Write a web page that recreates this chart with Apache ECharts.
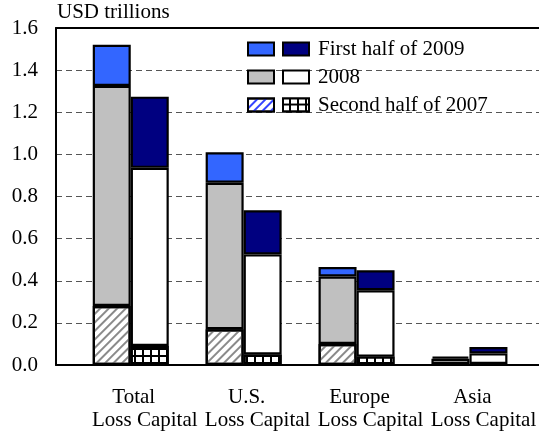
<!DOCTYPE html>
<html><head><meta charset="utf-8">
<script src="https://cdn.jsdelivr.net/npm/echarts@6/dist/echarts.min.js"></script>
<style>html,body{margin:0;padding:0;background:#fff}#c{width:539px;height:438px}</style>
</head><body><div id="c"></div>
<script>
const categories = ['Total', 'U.S.', 'Europe', 'Asia'];
const subLabel = 'Loss Capital';
const periodNames = ['First half of 2009', '2008', 'Second half of 2007'];
const yTicks = [0.0, 0.2, 0.4, 0.6, 0.8, 1.0, 1.2, 1.4, 1.6];
// Losses
const loss2007H2 = [0.28, 0.17, 0.10, 0.005];
const loss2008   = [1.045, 0.695, 0.32, 0.025];
const loss2009H1 = [0.195, 0.145, 0.045, 0.01];
// Capital raised
const cap2007H2 = [0.09, 0.05, 0.04, 0.005];
const cap2008   = [0.846, 0.475, 0.315, 0.05];
const cap2009H1 = [0.338, 0.21, 0.095, 0.03];

const FONT = '"Liberation Serif", "DejaVu Serif", serif';
const hatch = (c) => ({symbol:'rect', symbolSize:1, color:c, dashArrayX:[1,0], dashArrayY:[1.2,3.2], rotation:-Math.PI/4});
const gridDecal = {symbol:'rect', symbolSize:1, color:'#fff', backgroundColor:'#000', dashArrayX:[5.5,1.6], dashArrayY:[4.4,1.6]};
const border = {borderColor:'#000', borderWidth:2.2};

function bar(name, stack, data, color, decal){
  const s = {name, type:'bar', stack, data, xAxisIndex:1, yAxisIndex:1, barWidth:38, barGap:'0%',
    itemStyle:Object.assign({color}, border), emphasis:{disabled:true}, animation:false};
  if (decal) s.itemStyle.decal = decal;
  return s;
}
const lossNames = periodNames.map(p => 'Loss: ' + p);
const capNames = periodNames.map(p => 'Capital: ' + p);

const chart = echarts.init(document.getElementById('c'), null, {renderer:'canvas'});
chart.setOption({
  animation:false,
  backgroundColor:'#fff',
  textStyle:{fontFamily:FONT, color:'#000'},
  title:{text:'USD trillions', left:57, top:2, padding:0, textStyle:{fontFamily:FONT, fontSize:21, fontWeight:'normal', color:'#000'}},
  grid:[
    {left:56, right:-3, top:28, bottom:73},
    {left:74.3, right:11.3, top:28, bottom:73}
  ],
  xAxis:[
    {gridIndex:0, type:'value', min:0, max:1, axisLine:{show:true, lineStyle:{color:'#000', width:2}}, axisTick:{show:false}, axisLabel:{show:false}, splitLine:{show:false}},
    {gridIndex:1, type:'category', data:categories, axisLine:{show:false}, axisTick:{show:false},
      axisLabel:{margin:21, interval:0, formatter:(v) => '{a|' + v + '}\n{b|' + subLabel + '}',
        rich:{a:{fontFamily:FONT, fontSize:21, lineHeight:23, color:'#000', padding:[0,0,0,6]},
              b:{fontFamily:FONT, fontSize:21, lineHeight:23, color:'#000', padding:[0,0,0,28]}}}},
    {gridIndex:0, type:'value', position:'top', min:0, max:1, axisLine:{show:true, lineStyle:{color:'#000', width:2}}, axisTick:{show:false}, axisLabel:{show:false}, splitLine:{show:false}}
  ],
  yAxis:[
    {gridIndex:0, type:'value', min:yTicks[0], max:yTicks[yTicks.length-1], interval:0.2,
      axisLine:{show:true, lineStyle:{color:'#000', width:2}}, axisTick:{show:false},
      axisLabel:{margin:18, fontFamily:FONT, fontSize:21, color:'#000', formatter:(v) => v.toFixed(1)},
      splitLine:{show:true, lineStyle:{color:'#555', width:1.2, type:[6,4]}}},
    {gridIndex:1, type:'value', min:yTicks[0], max:yTicks[yTicks.length-1], show:false}
  ],
  legend:[
    {orient:'vertical', left:247, top:37, padding:0, itemWidth:26, itemHeight:13, itemGap:4, selectedMode:false,
      formatter:() => ' ', textStyle:{fontFamily:FONT, fontSize:21, lineHeight:24},
      data:[
        {name:lossNames[0], icon:'rect'},
        {name:lossNames[1], icon:'rect'},
        {name:lossNames[2], icon:'rect', itemStyle:{decal:hatch('#3344ff')}}
      ]},
    {orient:'vertical', left:282, top:37, padding:0, itemWidth:26, itemHeight:13, itemGap:4, selectedMode:false,
      formatter:(n) => n.replace('Capital: ', ''), textStyle:{fontFamily:FONT, fontSize:21, lineHeight:24, color:'#000', padding:[0,0,0,4]},
      data:capNames.map(n => ({name:n, icon:'rect'}))}
  ],
  series:[
    bar(lossNames[2], 'loss', loss2007H2, '#fff', hatch('#8a8a8a')),
    bar(lossNames[1], 'loss', loss2008, '#c0c0c0'),
    bar(lossNames[0], 'loss', loss2009H1, '#3366ff'),
    bar(capNames[2], 'cap', cap2007H2, '#000', gridDecal),
    bar(capNames[1], 'cap', cap2008, '#fff'),
    bar(capNames[0], 'cap', cap2009H1, '#000080')
  ]
});
</script></body></html>
